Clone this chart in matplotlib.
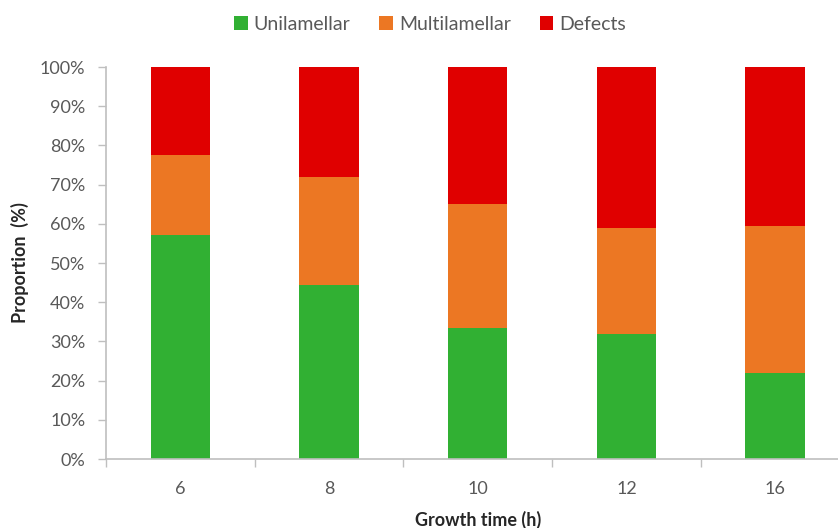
import numpy as np
import matplotlib.pyplot as plt

plt.rcParams['font.family'] = ['Lato', 'DejaVu Sans']

# data
growth_time = ['6', '8', '10', '12', '16']
unilamellar = np.array([57.1, 44.4, 33.3, 31.8, 22.0])
multilamellar = np.array([20.4, 27.6, 31.8, 27.1, 37.4])
defects = 100 - unilamellar - multilamellar

series = [('Unilamellar', unilamellar, '#31B033'),
          ('Multilamellar', multilamellar, '#EC7723'),
          ('Defects', defects, '#E00000')]

text_col = '#595959'
axis_col = '#BFBFBF'

fig = plt.figure(figsize=(8.38, 5.28), dpi=100)
ax = fig.add_axes([106 / 838, 1 - 459 / 528, 743.5 / 838, 392 / 528])

x = np.arange(len(growth_time))
bottom = np.zeros(len(growth_time))
for name, vals, col in series:
    ax.bar(x, vals, 0.4, bottom=bottom, color=col, label=name, linewidth=0)
    bottom += vals

ax.set_xlim(-0.5, len(growth_time) - 0.5)
ax.set_ylim(0, 100)
ax.set_yticks(np.arange(0, 101, 10))
ax.set_yticklabels(['%d%%' % v for v in range(0, 101, 10)])

# category boundaries as major ticks, labels on minor ticks
ax.set_xticks(np.arange(-0.5, len(growth_time), 1.0))
ax.set_xticklabels([])
ax.set_xticks(x, minor=True)
ax.set_xticklabels(growth_time, minor=True)
ax.tick_params(axis='x', which='minor', length=0, pad=16, labelsize=13, labelcolor=text_col)
ax.tick_params(axis='x', which='major', length=6, color=axis_col, width=1)
ax.tick_params(axis='y', length=6, color=axis_col, width=1, labelsize=13,
               labelcolor=text_col, pad=9)

for s in ['top', 'right']:
    ax.spines[s].set_visible(False)
for s in ['left', 'bottom']:
    ax.spines[s].set_color(axis_col)
    ax.spines[s].set_linewidth(1.2)

ax.set_xlabel('Growth time (h)', fontsize=13, fontweight='bold', color='#262626', labelpad=10)
ax.set_ylabel('Proportion  (%)', fontsize=13, fontweight='bold', color='#262626', labelpad=8)

fig.legend(loc='center', bbox_to_anchor=(430 / 838, 1 - 24 / 528), ncol=3, frameon=False,
           fontsize=14, labelcolor=text_col, handlelength=0.7, handleheight=0.7,
           handletextpad=0.3, columnspacing=1.5)

fig.savefig('out.png', dpi=100)
